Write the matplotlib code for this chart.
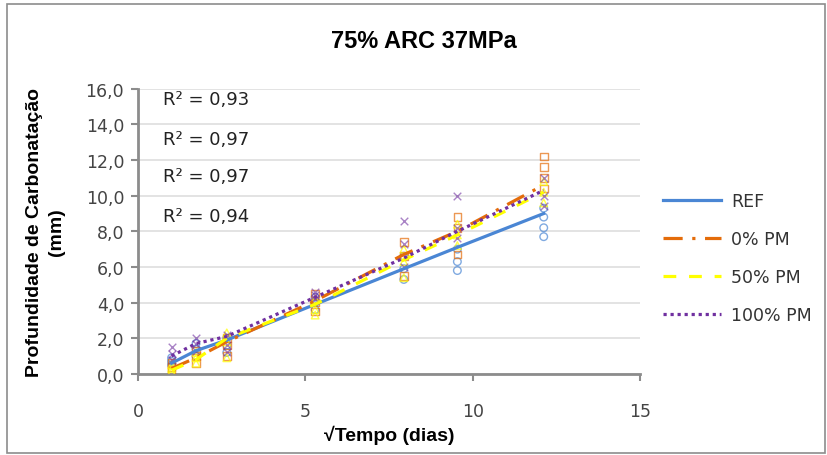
import numpy as np
import matplotlib
matplotlib.use("Agg")
import matplotlib.pyplot as plt
from matplotlib.patches import Rectangle

plt.rcParams["font.family"] = ["DejaVu Sans"]
BOLD_FAMILY = ["Liberation Sans", "DejaVu Sans"]

# Square root of age (days): 1, 3, 7, 28, 63, 91, 147
ages = [1.0, 1.73, 2.65, 5.29, 7.94, 9.54, 12.12]

series_names = ["REF", "0% PM", "50% PM", "100% PM"]

# Individual measurements (mm), three or four per age
ref_pts = [[0.5, 0.7, 0.9], [1.0, 1.4, 1.7], [1.2, 1.6, 2.0], [3.6, 4.0, 4.3],
           [5.3, 5.9, 6.6], [5.8, 6.3, 7.0], [7.7, 8.2, 8.8, 9.3]]
pm0_pts = [[0.2, 0.4, 0.6], [0.6, 1.0, 1.3], [1.0, 1.6, 2.0], [3.5, 4.0, 4.5],
           [5.5, 6.6, 7.4], [6.7, 8.2, 8.8], [10.4, 11.0, 11.6, 12.2]]
pm50_pts = [[0.1, 0.3, 0.5], [0.6, 0.9, 1.2], [0.9, 1.8, 2.3], [3.3, 3.6, 4.2],
            [5.4, 6.3, 7.0], [7.2, 7.8, 8.4], [9.6, 10.2, 10.8]]
pm100_pts = [[0.8, 1.1, 1.5], [1.3, 1.7, 2.0], [1.2, 1.6, 2.2], [4.2, 4.4, 4.6],
             [6.0, 7.3, 8.6], [7.6, 8.2, 10.0], [9.4, 10.0, 11.0]]

# Curve values at each age
ref_line = [0.6, 1.3, 1.9, 3.9, 5.9, 7.1, 9.0]
pm0_line = [0.3, 0.9, 1.8, 4.1, 6.7, 8.0, 10.6]
pm50_line = [0.2, 0.8, 2.0, 3.9, 6.4, 7.8, 10.2]
pm100_line = [1.0, 1.7, 2.1, 4.3, 6.5, 8.0, 10.3]

r2_labels = ["R² = 0,93", "R² = 0,97", "R² = 0,97", "R² = 0,94"]

y_ticks = [0, 2, 4, 6, 8, 10, 12, 14, 16]
x_ticks = [0, 5, 10, 15]

colors = ["#4a86d4", "#e46c0a", "#ffff00", "#7030a0"]
markers = ["o", "s", "^", "x"]
styles = ["-", (0, (6, 3, 1, 3)), (0, (4, 4)), (0, (1, 1.2))]

fig = plt.figure(figsize=(8.27, 4.56), dpi=100)
fig.patch.set_facecolor("white")
fig.patches.append(Rectangle((0.009, 0.004), 0.988, 0.984, transform=fig.transFigure,
                             fill=False, edgecolor="#8c8c8c", linewidth=1.2))

ax = fig.add_axes([0.167, 0.178, 0.607, 0.625])

all_pts = [ref_pts, pm0_pts, pm50_pts, pm100_pts]
all_lines = [ref_line, pm0_line, pm50_line, pm100_line]

for name, pts, line, c, m, ls in zip(series_names, all_pts, all_lines, colors, markers, styles):
    xs = [a for a, grp in zip(ages, pts) for _ in grp]
    ys = [v for grp in pts for v in grp]
    if m == "x":
        ax.scatter(xs, ys, marker=m, color=c, s=30, linewidths=1.0, alpha=0.6, zorder=3)
    else:
        ax.scatter(xs, ys, marker=m, facecolors="none", edgecolors=c, s=30,
                   linewidths=1.0, alpha=0.7, zorder=3)
    ax.plot(ages, line, color=c, linestyle=ls, linewidth=2.3, label=name, zorder=4)

ax.set_xlim(0, 15)
ax.set_ylim(0, 16)
ax.set_xticks(x_ticks)
ax.set_yticks(y_ticks)
ax.set_xticklabels([str(t) for t in x_ticks])
ax.set_yticklabels([f"{t:.1f}".replace(".", ",") for t in y_ticks])
ax.tick_params(axis="both", labelsize=12.5, colors="#8c8c8c", labelcolor="#444444",
               length=5, width=1.5, direction="out")
ax.tick_params(axis="x", pad=15)
ax.tick_params(axis="y", pad=5)
ax.grid(axis="y", color="#dedede", linewidth=1.2)
ax.set_axisbelow(True)
for side in ["top", "right"]:
    ax.spines[side].set_visible(False)
for side in ["left", "bottom"]:
    ax.spines[side].set_color("#8c8c8c")
    ax.spines[side].set_linewidth(2)

r2_y = [15.45, 13.2, 11.1, 8.85]
for txt, yy in zip(r2_labels, r2_y):
    ax.text(0.75, yy, txt, fontsize=13, color="#222222", va="center", ha="left")

ax.set_xlabel("√Tempo (dias)", fontsize=14, fontweight="bold", labelpad=4,
              family=BOLD_FAMILY)
ax.set_ylabel("Profundidade de Carbonatação\n(mm)", fontsize=14, fontweight="bold",
              labelpad=15, linespacing=1.35, family=BOLD_FAMILY)

fig.text(0.512, 0.91, "75% ARC 37MPa", ha="center", va="center",
         fontsize=17, fontweight="bold", family=BOLD_FAMILY)

leg = ax.legend(loc="center left", bbox_to_anchor=(1.015, 0.405), frameon=False,
                fontsize=12.5, handlelength=3.3, labelspacing=1.15, handletextpad=0.6)
for t in leg.get_texts():
    t.set_color("#333333")

fig.savefig("out.png", dpi=100)
